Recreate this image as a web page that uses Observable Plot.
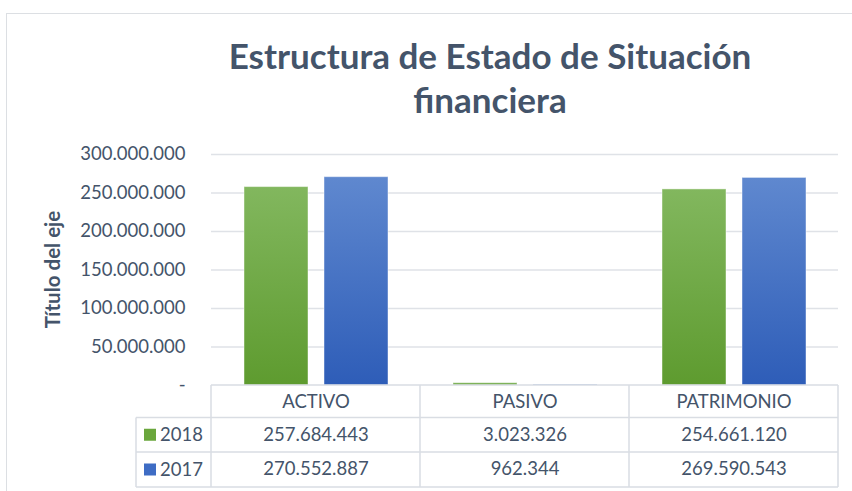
<!DOCTYPE html>
<html><head><meta charset="utf-8">
<script src="https://cdn.jsdelivr.net/npm/d3@7"></script>
<script src="https://cdn.jsdelivr.net/npm/@observablehq/plot@0.6"></script>
<style>
body{margin:0;background:#fff;font-family:Lato,"Open Sans",sans-serif;}
#wrap{position:relative;width:852px;height:491px;overflow:hidden;background:#fff;}
#frame{position:absolute;left:6px;top:13px;width:900px;height:520px;border:1px solid #dcdfe3;box-sizing:border-box;}
#title{position:absolute;left:90px;top:33px;width:800px;text-align:center;font-family:Lato,"Open Sans",sans-serif;font-weight:700;font-size:35px;line-height:44px;color:#44546A;}
#chart{position:absolute;left:0;top:140px;}
</style></head>
<body>
<div id="wrap">
  <div id="frame"></div>
  <div id="title">Estructura de Estado de Situación<br>financiera</div>
  <div id="chart"></div>
</div>
<script>
const categories = ["ACTIVO", "PASIVO", "PATRIMONIO"];
const years = ["2018", "2017"];
const values2018 = [257684443, 3023326, 254661120];
const values2017 = [270552887, 962344, 269590543];
const yTicks = [0, 50000000, 100000000, 150000000, 200000000, 250000000, 300000000];
const yLabel = "Título del eje";

const seriesValues = {"2018": values2018, "2017": values2017};
const data = [];
years.forEach(y => categories.forEach((c, i) => data.push({category: c, year: y, value: seriesValues[y][i]})));

const loc = d3.formatLocale({decimal: ",", thousands: ".", grouping: [3], currency: ["", ""]});
const fmtNum = loc.format(",");
const fmtTick = d => d === 0 ? "-" : fmtNum(d);

const textColor = "#44546A";
const W = 852, H = 351, mL = 211, mR = 14, mT = 14, mB = 106;

const plot = Plot.plot({
  width: W, height: H,
  marginLeft: mL, marginRight: mR, marginTop: mT, marginBottom: mB,
  style: {fontFamily: "Lato, 'Open Sans', sans-serif", fontSize: "18.5px", color: textColor, background: "transparent", overflow: "visible"},
  fx: {domain: categories, padding: 0, axis: null},
  x: {domain: years, paddingInner: 0.2037, paddingOuter: 0.392, axis: null},
  y: {domain: [0, 300000000], axis: null},
  color: {domain: years, range: ["url(#gGreen)", "url(#gBlue)"]},
  marks: [
    Plot.gridY(yTicks.filter(d => d > 0), {stroke: "#dfe2e7", strokeOpacity: 1, strokeWidth: 1.6}),
    Plot.axisY(yTicks, {tickSize: 0, tickPadding: 26, tickFormat: fmtTick, label: null, fontSize: 18.5, fill: textColor}),
    Plot.barY(data, {fx: "category", x: "year", y: "value", fill: "year", stroke: "#ffffff", strokeOpacity: 0.45, strokeWidth: 1}),
    Plot.text(categories, {fx: d => d, text: d => d, frameAnchor: "bottom", dy: 22, fill: textColor, fontSize: 18.5}),
    Plot.text(data.filter(d => d.year === "2018"), {fx: "category", text: d => fmtNum(d.value), frameAnchor: "bottom", dy: 55, fill: textColor, fontSize: 18.5}),
    Plot.text(data.filter(d => d.year === "2017"), {fx: "category", text: d => fmtNum(d.value), frameAnchor: "bottom", dy: 89, fill: textColor, fontSize: 18.5})
  ]
});

const svg = d3.select(plot);
const defs = svg.insert("defs", ":first-child");
const g1 = defs.append("linearGradient").attr("id", "gGreen").attr("x1", 0).attr("y1", 0).attr("x2", 0).attr("y2", 1);
g1.append("stop").attr("offset", "0%").attr("stop-color", "#82b75e");
g1.append("stop").attr("offset", "100%").attr("stop-color", "#5e9b2f");
const g2 = defs.append("linearGradient").attr("id", "gBlue").attr("x1", 0).attr("y1", 0).attr("x2", 0).attr("y2", 1);
g2.append("stop").attr("offset", "0%").attr("stop-color", "#5f88cf");
g2.append("stop").attr("offset", "100%").attr("stop-color", "#2e5db8");

// data table lines, positioned through Plot's fx scale
const fx = plot.scale("fx");
const bw = fx.bandwidth;
const left = fx.apply(categories[0]);
const right = fx.apply(categories[categories.length - 1]) + bw;
const yTop = H - mB, yR1 = yTop + 32.5, yR2 = yTop + 67, yR3 = yTop + 102;
const labelLeft = 136;
const lines = svg.append("g").attr("stroke", "#d9dde3").attr("stroke-width", 1.5).attr("fill", "none");
lines.append("line").attr("x1", left).attr("x2", right).attr("y1", yTop).attr("y2", yTop);
[yR1, yR2, yR3].forEach(y => lines.append("line").attr("x1", labelLeft).attr("x2", right).attr("y1", y).attr("y2", y));
categories.forEach(c => lines.append("line").attr("x1", fx.apply(c)).attr("x2", fx.apply(c)).attr("y1", yTop).attr("y2", yR3));
lines.append("line").attr("x1", right).attr("x2", right).attr("y1", yTop).attr("y2", yR3);
lines.append("line").attr("x1", labelLeft).attr("x2", labelLeft).attr("y1", yR1).attr("y2", yR3);

// row labels with legend keys
const keyFill = {"2018": "#6aa63c", "2017": "#3e6cc4"};
years.forEach((yr, i) => {
  const cy = i === 0 ? (yR1 + yR2) / 2 : (yR2 + yR3) / 2;
  svg.append("rect").attr("x", 144).attr("y", cy - 6).attr("width", 12).attr("height", 12).attr("fill", keyFill[yr]);
  svg.append("text").attr("x", 160).attr("y", cy).attr("dy", "0.35em").attr("fill", textColor)
    .attr("text-anchor", "start")
    .attr("font-size", 18.5).attr("font-family", "Lato, 'Open Sans', sans-serif").text(yr);
});

// y axis title
svg.append("text")
  .attr("transform", `translate(53,${mT + (H - mT - mB) / 2}) rotate(-90)`)
  .attr("text-anchor", "middle").attr("dy", "0.35em")
  .attr("fill", textColor).attr("font-weight", 700).attr("font-size", 20.5)
  .attr("font-family", "Lato, 'Open Sans', sans-serif")
  .text(yLabel);

document.getElementById("chart").appendChild(plot);
</script>
</body></html>
